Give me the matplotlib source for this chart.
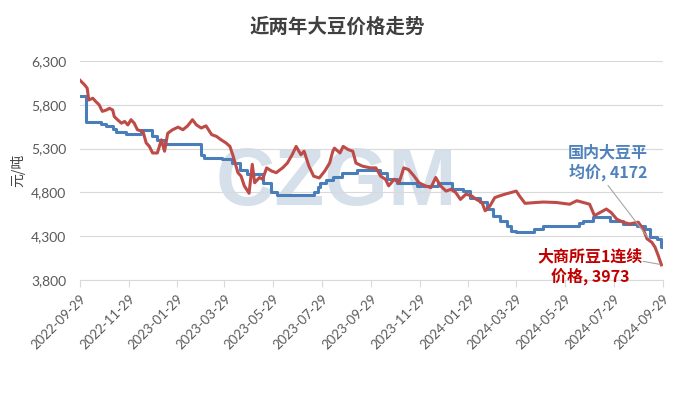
import pandas as pd
import matplotlib.pyplot as plt
import matplotlib.dates as mdates
from matplotlib.ticker import FuncFormatter

# 国内大豆平均价 (step series, change points)
avg_dates = ['2022-09-29', '2022-10-06', '2022-10-25', '2022-11-01', '2022-11-09',
             '2022-11-13', '2022-11-26', '2022-12-14', '2022-12-28', '2023-01-03',
             '2023-01-13', '2023-02-28', '2023-03-04', '2023-03-26', '2023-04-07',
             '2023-04-18', '2023-04-27', '2023-05-17', '2023-05-27', '2023-06-03',
             '2023-07-20', '2023-07-24', '2023-07-27', '2023-08-04', '2023-08-12',
             '2023-08-24', '2023-09-11', '2023-10-10', '2023-10-19', '2023-10-31',
             '2023-11-25', '2023-12-22', '2024-01-09', '2024-01-22', '2024-01-31',
             '2024-02-12', '2024-02-21', '2024-02-29', '2024-03-08', '2024-03-17',
             '2024-03-23', '2024-03-29', '2024-04-20', '2024-05-02', '2024-06-16',
             '2024-06-21', '2024-07-03', '2024-07-25', '2024-08-10', '2024-08-27',
             '2024-09-06', '2024-09-13', '2024-09-21', '2024-09-26', '2024-09-29']
avg_price = [5900, 5600, 5580, 5560, 5520,
             5490, 5470, 5515, 5440, 5400,
             5350, 5230, 5195, 5180, 5140,
             5055, 5005, 4910, 4800, 4768,
             4800, 4860, 4910, 4940, 4980,
             5024, 5055, 5024, 4950, 4911,
             4873, 4911, 4836, 4817, 4741,
             4685, 4609, 4534, 4477, 4421,
             4364, 4353, 4383, 4413, 4450,
             4477, 4515, 4477, 4440, 4421,
             4383, 4289, 4270, 4172, 4172]

# 大商所豆1连续价格
dce_dates = ['2022-09-29', '2022-10-05', '2022-10-08', '2022-10-10', '2022-10-15',
             '2022-10-19', '2022-10-23', '2022-10-27', '2022-11-01', '2022-11-05',
             '2022-11-09', '2022-11-11', '2022-11-15', '2022-11-20', '2022-11-24',
             '2022-11-28', '2022-12-02', '2022-12-06', '2022-12-10', '2022-12-17',
             '2022-12-21', '2022-12-25', '2022-12-29', '2023-01-04', '2023-01-09',
             '2023-01-13', '2023-01-17', '2023-01-23', '2023-01-30', '2023-02-05',
             '2023-02-11', '2023-02-17', '2023-02-22', '2023-02-28', '2023-03-06',
             '2023-03-13', '2023-03-19', '2023-03-25', '2023-03-31', '2023-04-05',
             '2023-04-09', '2023-04-15', '2023-04-19', '2023-04-23', '2023-04-29',
             '2023-05-03', '2023-05-06', '2023-05-12', '2023-05-16', '2023-05-21',
             '2023-05-27', '2023-06-02', '2023-06-10', '2023-06-16', '2023-06-22',
             '2023-06-27', '2023-07-03', '2023-07-07', '2023-07-13', '2023-07-19',
             '2023-07-26', '2023-08-02', '2023-08-08', '2023-08-12', '2023-08-14',
             '2023-08-21', '2023-08-25', '2023-08-31', '2023-09-06', '2023-09-10',
             '2023-09-18', '2023-09-28', '2023-10-05', '2023-10-11', '2023-10-17',
             '2023-10-21', '2023-10-28', '2023-11-03', '2023-11-09', '2023-11-15',
             '2023-11-22', '2023-11-28', '2023-12-06', '2023-12-13', '2023-12-19',
             '2023-12-25', '2024-01-01', '2024-01-07', '2024-01-13', '2024-01-19',
             '2024-01-26', '2024-02-02', '2024-02-08', '2024-02-15', '2024-02-19',
             '2024-02-25', '2024-03-02', '2024-03-08', '2024-03-15', '2024-03-23',
             '2024-03-29', '2024-04-02', '2024-04-09', '2024-04-23', '2024-05-02',
             '2024-05-18', '2024-06-04', '2024-06-13', '2024-06-21', '2024-06-29',
             '2024-07-05', '2024-07-12', '2024-07-20', '2024-07-26', '2024-08-02',
             '2024-08-10', '2024-08-18', '2024-08-29', '2024-09-04', '2024-09-09',
             '2024-09-15', '2024-09-19', '2024-09-23', '2024-09-27']
dce_price = [6080, 6025, 5990, 5855, 5875,
             5835, 5800, 5725, 5740, 5760,
             5740, 5665, 5630, 5590, 5610,
             5570, 5630, 5590, 5515, 5495,
             5365, 5325, 5250, 5250, 5400,
             5270, 5475, 5515, 5545, 5515,
             5560, 5630, 5570, 5535, 5560,
             5460, 5440, 5400, 5365, 5325,
             5215, 5025, 4985, 4875, 4790,
             5120, 4910, 4970, 4950, 5080,
             5045, 5025, 5080, 5135, 5230,
             5325, 5230, 5270, 5100, 4985,
             4965, 5045, 5135, 5270, 5305,
             5250, 5325, 5290, 5270, 5135,
             5100, 5080, 5080, 4985, 4950,
             4875, 4950, 4910, 5080, 5060,
             4985, 4910, 4875, 4855, 4970,
             4875, 4815, 4835, 4800, 4720,
             4780, 4760, 4720, 4685, 4590,
             4645, 4740, 4760, 4780, 4800,
             4815, 4760, 4675, 4685, 4690,
             4685, 4665, 4705, 4685, 4665,
             4535, 4570, 4610, 4570, 4495,
             4460, 4440, 4460, 4385, 4270,
             4230, 4175, 4080, 3973]

tick_dates = ['2022-09-29', '2022-11-29', '2023-01-29', '2023-03-29', '2023-05-29',
              '2023-07-29', '2023-09-29', '2023-11-29', '2024-01-29', '2024-03-29',
              '2024-05-29', '2024-07-29', '2024-09-29']

cjk = ['Noto Sans CJK SC', 'DejaVu Sans']
blue = '#4a7ebb'
red = '#be4b48'

fig = plt.figure(figsize=(6.74, 3.96), dpi=100)
ax = fig.add_axes([80 / 674, 1 - 280 / 396, 583 / 674, 219 / 396])

# watermark
ax.text(0.44, 0.342, 'CZGM', transform=ax.transAxes, ha='center', va='baseline',
        fontsize=59, fontweight='bold', color='#d6e0ea', family='Liberation Sans', zorder=0)

ax.plot(pd.to_datetime(dce_dates), dce_price, color=red, lw=2.2, zorder=3)
ax.plot(pd.to_datetime(avg_dates), avg_price, color=blue, lw=2.2, drawstyle='steps-post', zorder=2)

ax.set_ylim(3800, 6300)
ax.set_yticks([3800, 4300, 4800, 5300, 5800, 6300])
ax.yaxis.set_major_formatter(FuncFormatter(lambda v, p: f'{int(v):,}'))
ax.set_xlim(pd.Timestamp('2022-09-29'), pd.Timestamp('2024-09-29'))
ax.set_xticks(pd.to_datetime(tick_dates))
ax.xaxis.set_major_formatter(mdates.DateFormatter('%Y-%m-%d'))

ax.grid(axis='y', color='#d9d9d9', lw=0.8)
ax.set_axisbelow(True)
for s in ['left', 'right', 'top']:
    ax.spines[s].set_visible(False)
ax.spines['bottom'].set_color('#d9d9d9')
ax.tick_params(axis='y', length=0, pad=10, labelsize=10, labelcolor='#595959')
ax.tick_params(axis='x', length=5, color='#d9d9d9', labelsize=9.5, labelcolor='#595959', pad=4)
for lab in ax.get_yticklabels() + ax.get_xticklabels():
    lab.set_family('Lato')
for lab in ax.get_xticklabels():
    lab.set_rotation(45)
    lab.set_ha('right')
    lab.set_va('top')
    lab.set_rotation_mode('anchor')

ax.set_ylabel('元/吨', family=cjk, fontsize=10, color='#404040', labelpad=4)
fig.text(0.5, 1 - 27 / 396, '近两年大豆价格走势', ha='center', va='center',
         family=cjk, fontsize=14, fontweight='bold', color='#404040')

# data labels with leader lines
ax.text(pd.Timestamp('2024-07-22'), 5140, '国内大豆平\n均价, 4172', ha='center', va='center',
        family=cjk, fontsize=11.5, fontweight='bold', color='#4f81bd', linespacing=1.2)
ax.annotate('', xy=(pd.Timestamp('2024-09-10'), 4286), xytext=(pd.Timestamp('2024-07-22'), 4880),
            arrowprops=dict(arrowstyle='-', color='#a6a6a6', lw=0.8, shrinkA=0, shrinkB=0))
ax.text(pd.Timestamp('2024-06-30'), 3950, '大商所豆1连续\n价格, 3973', ha='center', va='center',
        family=cjk, fontsize=11.5, fontweight='bold', color='#c00000', linespacing=1.2)
ax.annotate('', xy=(pd.Timestamp('2024-09-25'), 3979), xytext=(pd.Timestamp('2024-09-04'), 4013),
            arrowprops=dict(arrowstyle='-', color='#a6a6a6', lw=0.8, shrinkA=0, shrinkB=0))

fig.savefig('out.png', dpi=100)
